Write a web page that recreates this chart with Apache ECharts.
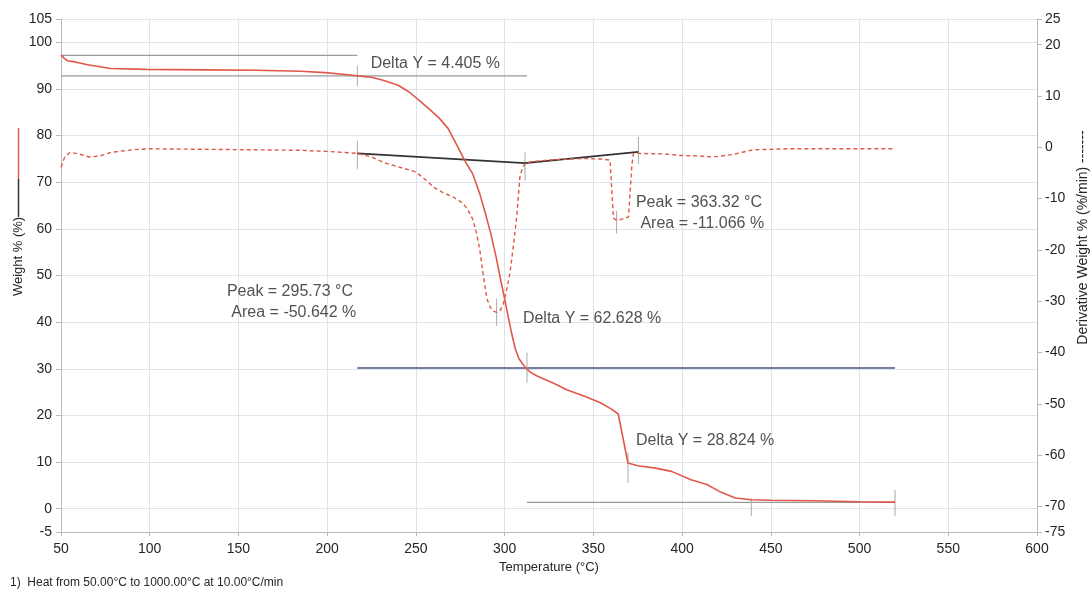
<!DOCTYPE html>
<html>
<head>
<meta charset="utf-8">
<script src="https://cdn.jsdelivr.net/npm/echarts@6/dist/echarts.min.js"></script>
<style>
html,body{margin:0;padding:0;background:#fff;}
#chart{width:1090px;height:595px;}
</style>
</head>
<body>
<div id="chart"></div>
<script>
// ---- Data ----
var weightTemp = [50, 52, 54, 58, 65, 78, 98, 130, 160, 185, 199, 210, 217, 225, 232, 240, 246, 252, 258, 263, 268, 273, 278, 282, 286, 289, 292, 295, 298, 300, 302, 304, 306, 308, 311, 314, 318, 322, 327, 335, 345, 354, 360, 364, 369.5, 375, 385, 394, 405, 414, 421, 430, 439, 450, 474, 500, 520];
var weightPct  = [97.3, 96.5, 96.0, 95.8, 95.2, 94.4, 94.2, 94.1, 94.0, 93.8, 93.5, 93.1, 92.8, 92.5, 91.8, 90.8, 89.4, 87.5, 85.5, 83.8, 81.6, 78.0, 74.3, 71.8, 67.5, 63.5, 59.3, 54.3, 48.6, 45.0, 41.2, 37.5, 34.3, 32.2, 30.6, 29.4, 28.5, 27.8, 27.0, 25.5, 24.1, 22.7, 21.4, 20.3, 9.8, 9.2, 8.7, 8.0, 6.2, 5.2, 3.7, 2.3, 1.9, 1.8, 1.7, 1.5, 1.4];

var derivTemp = [50, 52, 55, 60, 66, 72, 78, 90, 100, 130, 160, 185, 200, 217, 225, 233, 242, 250, 256, 260, 265, 271, 276, 279, 282, 284, 286, 288, 290, 292, 294, 295.7, 297.5, 299.2, 301, 303, 305, 306.8, 308.6, 310, 311.5, 315, 325, 335, 345, 355, 359.4, 361.3, 363.3, 366, 369.8, 371.7, 372.6, 375.6, 390, 399, 410, 417.6, 428.8, 440, 460, 474, 500, 519];
var derivVal  = [-3.9, -2.0, -1.0, -1.3, -1.9, -1.7, -1.0, -0.5, -0.3, -0.4, -0.5, -0.6, -0.8, -1.2, -1.9, -3.1, -4.0, -4.8, -6.5, -7.8, -8.8, -9.7, -10.8, -12.0, -14.0, -16.5, -20.0, -25.0, -29.5, -31.3, -32.0, -32.2, -31.8, -30.6, -28.0, -24.5, -19.0, -13.5, -5.8, -4.0, -3.2, -2.8, -2.5, -2.3, -2.2, -2.3, -2.5, -13.8, -14.3, -14.0, -13.6, -3.5, -1.2, -1.2, -1.3, -1.6, -1.7, -1.9, -1.4, -0.5, -0.3, -0.3, -0.3, -0.3];

// Step-analysis reference lines (weight axis)
var upperGrayLine  = [[50, 97.2], [217, 97.2]];
var lowerGrayLine  = [[50, 92.8], [312.6, 92.8]];
var midBlueLine    = [[217, 30.17], [520, 30.17]];
var bottomGrayLine = [[312.6, 1.35], [520, 1.35]];
// Peak-integration baseline (derivative axis)
var peakBaseline   = [[217, -1.2], [311.5, -3.1], [375.4, -0.9]];

// Small vertical limit markers
var weightMarkers = [[[217, 90.6], [217, 95.0]], [[312.6, 27.0], [312.6, 33.5]], [[369.5, 5.5], [369.5, 12.0]], [[439, -1.5], [439, 2.2]], [[520, -1.5], [520, 4.0]]];
var derivMarkers  = [[[217, -4.2], [217, 1.3]], [[311.5, -6.5], [311.5, -1.0]], [[375.4, -3.3], [375.4, 2.0]], [[295.5, -34.8], [295.5, -29.5]], [[363.1, -16.8], [363.1, -12.4]]];

// Annotations
var annotTemp = [224.5, 374, 143.5, 310.3, 374];
var annotPct  = [95.5, 63.3, 44.3, 40.8, 14.6];
var annotText = ['Delta Y = 4.405 %', 'Peak = 363.32 °C\n Area = -11.066 %', 'Peak = 295.73 °C\n Area = -50.642 %', 'Delta Y = 62.628 %', 'Delta Y = 28.824 %'];

var xTicks = [50, 100, 150, 200, 250, 300, 350, 400, 450, 500, 550, 600];
var leftTicks = [-5, 0, 10, 20, 30, 40, 50, 60, 70, 80, 90, 100, 105];
var rightTicks = [-75, -70, -60, -50, -40, -30, -20, -10, 0, 10, 20, 25];

// ---- Chart ----
var FONT = "'Liberation Sans', Arial, sans-serif";
var RED = '#e0584a';
var TXT = '#262626';
var chart = echarts.init(document.getElementById('chart'), null, {renderer: 'canvas'});

function zip(a, b) { return a.map(function (v, i) { return [v, b[i]]; }); }

var series = [];
series.push({
  type: 'line', name: 'Weight', data: zip(weightTemp, weightPct), yAxisIndex: 0,
  showSymbol: false, symbol: 'none', lineStyle: {color: RED, width: 1.6}, z: 5, animation: false
});
series.push({
  type: 'line', name: 'Deriv', data: zip(derivTemp, derivVal), yAxisIndex: 1,
  showSymbol: false, symbol: 'none', lineStyle: {color: RED, width: 1.4, type: [4, 3]}, z: 5, animation: false
});
[upperGrayLine, lowerGrayLine, bottomGrayLine].forEach(function (d) {
  series.push({type: 'line', data: d, yAxisIndex: 0, symbol: 'none', lineStyle: {color: '#9a9a9a', width: 1.2}, z: 3, animation: false});
});
series.push({type: 'line', data: midBlueLine, yAxisIndex: 0, symbol: 'none', lineStyle: {color: '#4b5680', width: 1.3}, z: 3, animation: false});
series.push({type: 'line', data: peakBaseline, yAxisIndex: 1, symbol: 'none', lineStyle: {color: '#333333', width: 1.6}, z: 4, animation: false});
weightMarkers.forEach(function (d) {
  series.push({type: 'line', data: d, yAxisIndex: 0, symbol: 'none', lineStyle: {color: '#aaaaaa', width: 1}, z: 3, animation: false});
});
derivMarkers.forEach(function (d) {
  series.push({type: 'line', data: d, yAxisIndex: 1, symbol: 'none', lineStyle: {color: '#aaaaaa', width: 1}, z: 3, animation: false});
});
series.push({
  type: 'scatter', yAxisIndex: 0, symbolSize: 0, animation: false, z: 10, silent: true,
  data: annotTemp.map(function (t, i) { return {value: [t, annotPct[i]], name: annotText[i]}; }),
  label: {
    show: true, position: 'right', distance: 0, align: 'left', verticalAlign: 'middle',
    formatter: function (p) { return p.name; },
    fontFamily: FONT, fontSize: 16, lineHeight: 21, color: TXT
  }
});

var gridColor = '#dde4ee';
chart.setOption({
  animation: false,
  backgroundColor: '#ffffff',
  grid: {left: 61, right: 53, top: 19, bottom: 63, containLabel: false, outerBoundsMode: 'none'},
  xAxis: {
    type: 'value', min: 50, max: 600, interval: 50,
    name: 'Temperature (°C)', nameLocation: 'middle', nameGap: 27,
    nameTextStyle: {fontFamily: FONT, fontSize: 13, color: TXT},
    axisLine: {show: true, onZero: false, lineStyle: {color: '#b8b8b8'}},
    axisTick: {show: true, length: 4, lineStyle: {color: '#b8b8b8'}},
    axisLabel: {fontFamily: FONT, fontSize: 14, color: TXT, margin: 10, customValues: xTicks},
    splitLine: {show: true, lineStyle: {color: gridColor, width: 1}}
  },
  yAxis: [{
    type: 'value', min: -5, max: 105, position: 'left',
    name: '{sp|}Weight % (%){k|}{r|}', nameLocation: 'middle', nameRotate: 90, nameGap: 36,
    nameMoveOverlap: false,
    nameTextStyle: {
      fontFamily: FONT, fontSize: 13, color: TXT,
      rich: {
        sp: {width: 127, height: 2},
        k: {width: 38, height: 1.5, backgroundColor: '#333333'},
        r: {width: 51, height: 1.5, backgroundColor: RED}
      }
    },
    axisLine: {show: true, lineStyle: {color: '#b8b8b8'}},
    axisTick: {show: true, length: 5, inside: false, customValues: leftTicks, lineStyle: {color: '#b8b8b8'}},
    axisLabel: {fontFamily: FONT, fontSize: 14, color: TXT, margin: 9, customValues: leftTicks},
    splitLine: {show: true, lineStyle: {color: gridColor, width: 1}}
  }, {
    type: 'value', min: -75, max: 25, position: 'right',
    name: '{sp|}Derivative Weight % (%/min) -------', nameLocation: 'middle', nameRotate: 90, nameGap: 38,
    nameTextStyle: {
      fontFamily: FONT, fontSize: 14, color: TXT,
      rich: {sp: {width: 76, height: 2}}
    },
    axisLine: {show: true, lineStyle: {color: '#b8b8b8'}},
    axisTick: {show: true, length: 5, customValues: rightTicks, lineStyle: {color: '#b8b8b8'}},
    axisLabel: {fontFamily: FONT, fontSize: 14, color: TXT, margin: 8, customValues: rightTicks},
    splitLine: {show: false}
  }],
  graphic: [{
    type: 'text', left: 10, top: 577,
    style: {text: '1)  Heat from 50.00°C to 1000.00°C at 10.00°C/min', font: '12px ' + FONT, fill: TXT}
  }],
  series: series
});
</script>
</body>
</html>
